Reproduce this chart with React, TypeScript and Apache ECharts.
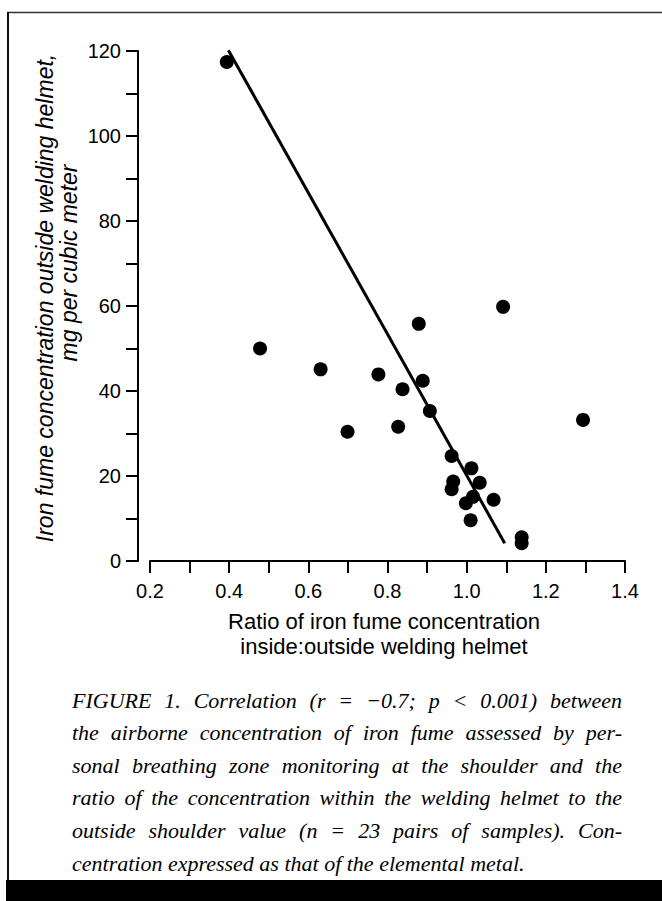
import React, { useEffect, useRef } from 'react';
import * as echarts from 'echarts';

// Ratio of iron fume concentration inside:outside welding helmet
const ratioValues = [0.394, 0.478, 0.631, 0.699, 0.777, 0.827, 0.838, 0.879, 0.889, 0.907, 0.962, 0.966, 0.962, 0.998, 1.010, 1.012, 1.016, 1.033, 1.068, 1.092, 1.139, 1.139, 1.294];
// Iron fume concentration outside welding helmet, mg per cubic meter
const ironFumeValues = [117.4, 50.0, 45.1, 30.4, 43.9, 31.6, 40.4, 55.8, 42.4, 35.3, 24.7, 18.7, 16.9, 13.6, 9.6, 21.8, 15.1, 18.4, 14.4, 59.8, 5.6, 4.2, 33.2];
// Regression line end points
const fitLineX = [0.398, 1.096];
const fitLineY = [120.2, 4.2];

const xTickLabels = ['0.2', '0.4', '0.6', '0.8', '1.0', '1.2', '1.4'];
const yTickLabels = ['0', '20', '40', '60', '80', '100', '120'];

const xTitleLines = ['Ratio of iron fume concentration', 'inside:outside welding helmet'];
const yTitleLines = ['Iron fume concentration outside welding helmet,', 'mg per cubic meter'];

const captionLines = [
  'FIGURE 1. Correlation (r = \u22120.7; p < 0.001) between',
  'the airborne concentration of iron fume assessed by per-',
  'sonal breathing zone monitoring at the shoulder and the',
  'ratio of the concentration within the welding helmet to the',
  'outside shoulder value (n = 23 pairs of samples). Con-',
  'centration expressed as that of the elemental metal.',
];

const SANS = '"Liberation Sans", Arial, Helvetica, sans-serif';
const SERIF = '"Liberation Serif", "Times New Roman", serif';

function buildCaption(): any[] {
  const ctx = document.createElement('canvas').getContext('2d') as CanvasRenderingContext2D;
  const fontSize = 22;
  ctx.font = `italic ${fontSize}px "Liberation Serif"`;
  const left = 72;
  const right = 622;
  const top = 700;
  const lh = 32.6;
  const els: any[] = [];
  captionLines.forEach((line, li) => {
    const y = top + li * lh;
    const words = line.split(' ');
    const widths = words.map((w) => ctx.measureText(w).width);
    const total = widths.reduce((a, b) => a + b, 0);
    const last = li === captionLines.length - 1;
    const gap = last ? ctx.measureText(' ').width : (right - left - total) / (words.length - 1);
    let x = left;
    words.forEach((w, wi) => {
      els.push({
        type: 'text',
        x,
        y,
        silent: true,
        style: {
          text: w,
          fontFamily: SERIF,
          fontSize,
          fontStyle: 'italic',
          fill: '#000',
          align: 'left',
          verticalAlign: 'middle',
          textAlign: 'left',
          textVerticalAlign: 'middle',
        },
      });
      x += widths[wi] + gap;
    });
  });
  return els;
}

export default function App() {
  const ref = useRef<HTMLDivElement>(null);

  useEffect(() => {
    document.body.style.margin = '0';
    if (!ref.current) return;
    const chart = echarts.init(ref.current, undefined, { renderer: 'svg' });

    const textStyle = (text: string, size: number, italic: boolean) => ({
      text,
      fontFamily: SANS,
      fontSize: size,
      fontStyle: italic ? 'italic' : 'normal',
      fill: '#000',
      align: 'center',
      verticalAlign: 'middle',
      textAlign: 'center',
      textVerticalAlign: 'middle',
    });

    const option: any = {
      animation: false,
      backgroundColor: '#ffffff',
      grid: { left: 150, right: 37, top: 51, bottom: 340 },
      xAxis: {
        type: 'value',
        min: 0.2,
        max: 1.4,
        interval: 0.1,
        axisLine: { show: true, onZero: false, lineStyle: { color: '#000', width: 2 } },
        axisTick: { show: true, inside: false, length: 12, lineStyle: { color: '#000', width: 2 } },
        axisLabel: {
          margin: 20,
          color: '#000',
          fontSize: 20,
          fontFamily: SANS,
          formatter: (v: number) => {
            const s = v.toFixed(1);
            return xTickLabels.indexOf(s) >= 0 ? s : '';
          },
        },
        splitLine: { show: false },
      },
      yAxis: {
        type: 'value',
        min: 0,
        max: 120,
        interval: 10,
        offset: 12,
        axisLine: { show: true, onZero: false, lineStyle: { color: '#000', width: 2 } },
        axisTick: { show: true, inside: false, length: 12, lineStyle: { color: '#000', width: 2 } },
        axisLabel: {
          margin: 17,
          color: '#000',
          fontSize: 20,
          fontFamily: SANS,
          formatter: (v: number) => {
            const s = String(Math.round(v));
            return yTickLabels.indexOf(s) >= 0 ? s : '';
          },
        },
        splitLine: { show: false },
      },
      series: [
        {
          type: 'scatter',
          data: ratioValues.map((x, i) => [x, ironFumeValues[i]]),
          symbol: 'circle',
          symbolSize: 14,
          itemStyle: { color: '#000', opacity: 1 },
          z: 3,
        },
        {
          type: 'line',
          data: fitLineX.map((x, i) => [x, fitLineY[i]]),
          symbol: 'none',
          lineStyle: { color: '#000', width: 3, opacity: 1 },
          z: 4,
        },
      ],
      graphic: [
        // frame
        { type: 'line', silent: true, shape: { x1: 7, y1: 12.5, x2: 662, y2: 12.5 }, style: { stroke: '#333', lineWidth: 1.5 } },
        { type: 'line', silent: true, shape: { x1: 8, y1: 12, x2: 8, y2: 882 }, style: { stroke: '#111', lineWidth: 2 } },
        { type: 'rect', silent: true, shape: { x: 6, y: 880, width: 656, height: 21 }, style: { fill: '#000' } },
        // x axis title
        { type: 'text', silent: true, x: 384, y: 621, style: textStyle(xTitleLines[0], 22, false) },
        { type: 'text', silent: true, x: 384, y: 646, style: textStyle(xTitleLines[1], 22, false) },
        // y axis title
        { type: 'text', silent: true, x: 45, y: 298, rotation: Math.PI / 2, style: textStyle(yTitleLines[0], 23, true) },
        { type: 'text', silent: true, x: 69, y: 263, rotation: Math.PI / 2, style: textStyle(yTitleLines[1], 23, true) },
        ...buildCaption(),
      ],
    };

    chart.setOption(option);
    return () => chart.dispose();
  }, []);

  return <div ref={ref} style={{ width: 662, height: 901 }} />;
}
